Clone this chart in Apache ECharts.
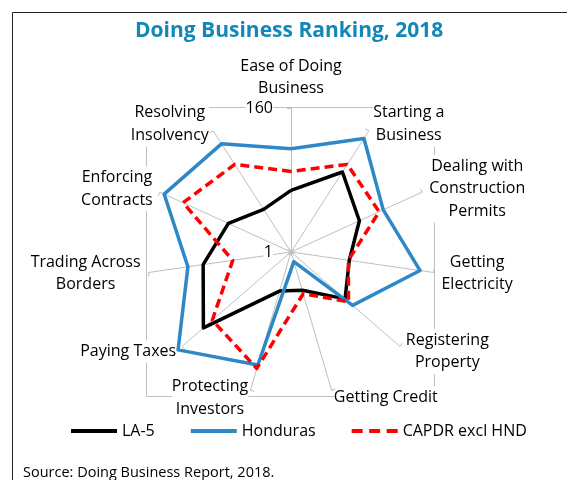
<!DOCTYPE html>
<html>
<head>
<meta charset="utf-8">
<script src="https://cdn.jsdelivr.net/npm/echarts@6/dist/echarts.min.js"></script>
<style>
  html, body { margin: 0; padding: 0; background: #fff; }
  #chart { width: 567px; height: 480px; }
</style>
</head>
<body>
<div id="chart"></div>
<script>
// indicators, clockwise from the top
var categories = ['Ease of Doing\nBusiness', 'Starting a\nBusiness', 'Dealing with\nConstruction\nPermits',
  'Getting\nElectricity', 'Registering\nProperty', 'Getting Credit', 'Protecting\nInvestors',
  'Paying Taxes', 'Trading Across\nBorders', 'Enforcing\nContracts', 'Resolving\nInsolvency']
var la5 = [69, 106, 84, 66, 80, 45, 46, 129, 99, 77, 57]
var honduras = [115, 150, 113, 145, 91, 12, 131, 166, 116, 155, 143]
var capdr = [90, 116, 108, 65, 85, 49, 135, 116, 66, 132, 116]
var axisTicks = [1, 160]

var font = 'Open Sans'
var gridGrey = '#bfbfbf'

// echarts lays indicators out counter-clockwise, so flip everything after the first
function clockwise (arr) {
  return [arr[0]].concat(arr.slice(1).reverse())
}

var indicator = clockwise(categories).map(function (name, i) {
  var ind = { name: name, min: axisTicks[0], max: axisTicks[1] }
  if (i === 0) ind.axisLabel = { show: true } // only the top axis shows 1 / 160
  return ind
})

var myChart = echarts.init(document.getElementById('chart'))
var option = {
  animation: false,
  textStyle: { fontFamily: font },
  title: [
    {
      text: 'Doing Business Ranking, 2018',
      left: 130,
      top: 16,
      textStyle: { fontFamily: font, fontSize: 21, fontWeight: 'bold', color: '#1287b8' }
    },
    {
      text: 'Source: Doing Business Report, 2018.',
      left: 18,
      top: 460,
      textStyle: { fontFamily: font, fontSize: 14.5, fontWeight: 'normal', color: '#000' }
    }
  ],
  graphic: [
    { // outer frame
      type: 'rect', z: -10, silent: true,
      shape: { x: 12.5, y: 12.5, width: 600, height: 500 },
      style: { fill: 'none', stroke: '#222', lineWidth: 1 }
    },
    { // plot area
      type: 'rect', z: -10, silent: true,
      shape: { x: 146.5, y: 107.5, width: 288, height: 289 },
      style: { fill: 'none', stroke: gridGrey, lineWidth: 1 }
    }
  ],
  legend: {
    left: 66,
    top: 418,
    itemWidth: 46,
    itemHeight: 4,
    itemGap: 36,
    textStyle: { fontFamily: font, fontSize: 16, color: '#000' },
    data: [
      { name: 'LA-5', icon: 'path://M0,0h46v4h-46z', itemStyle: { color: '#000', borderWidth: 0 } },
      { name: 'Honduras', icon: 'path://M0,0h46v4h-46z', itemStyle: { color: '#2e88c8', borderWidth: 0 } },
      { name: 'CAPDR excl HND', icon: 'path://M0,0h11v4h-11z M17.5,0h11v4h-11z M35,0h11v4h-11z', itemStyle: { color: '#ff0000', borderWidth: 0 } }
    ]
  },
  radar: {
    center: [291, 252],
    radius: 144,
    shape: 'polygon',
    splitNumber: 1,
    nameGap: 8,
    indicator: indicator,
    axisName: {
      fontFamily: font,
      fontSize: 16,
      color: '#000',
      backgroundColor: '#fff',
      formatter: function (name) {
        return name.split('\n').map(function (s) { return '{a|' + s + '}' }).join('\n')
      },
      rich: { a: { fontFamily: font, fontSize: 16, lineHeight: 22.5, color: '#000', align: 'center' } }
    },
    axisLine: { lineStyle: { color: gridGrey, width: 1 } },
    axisTick: { show: true, length: 4, lineStyle: { color: gridGrey } },
    axisLabel: {
      show: false,
      margin: 18,
      fontFamily: font,
      fontSize: 16,
      color: '#000',
      backgroundColor: '#fff',
      formatter: function (v) { return axisTicks.indexOf(v) >= 0 ? String(v) : '' }
    },
    splitLine: { show: false },
    splitArea: { show: false }
  },
  series: [{
    type: 'radar',
    symbol: 'none',
    data: [
      { name: 'LA-5', value: clockwise(la5), itemStyle: { color: '#000' }, lineStyle: { color: '#000', width: 3.5 } },
      { name: 'Honduras', value: clockwise(honduras), itemStyle: { color: '#2e88c8' }, lineStyle: { color: '#2e88c8', width: 3.5 } },
      { name: 'CAPDR excl HND', value: clockwise(capdr), itemStyle: { color: '#ff0000' }, lineStyle: { color: '#ff0000', width: 3.5, type: [9, 5] } }
    ]
  }]
}
myChart.setOption(option)
</script>
</body>
</html>
